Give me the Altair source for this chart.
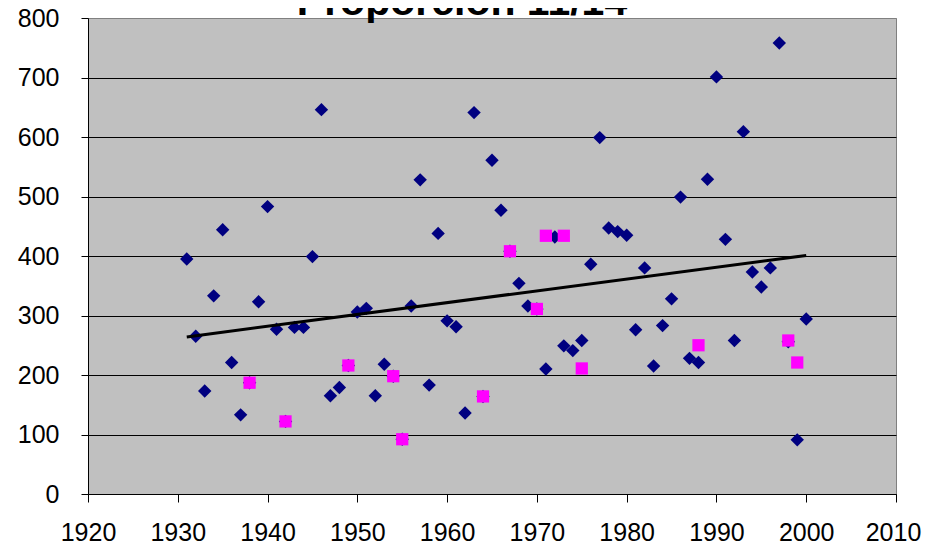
import altair as alt
import pandas as pd

title_text = "Proporción 11/14"

navy_years = list(range(1931, 2001))
navy_values = [395, 265, 173, 333, 444, 221, 133, 187, 323, 483,
               277, 122, 280, 280, 399, 646, 165, 179, 216, 306,
               312, 165, 218, 198, 92, 316, 528, 183, 438, 291,
               281, 136, 641, 164, 561, 477, 408, 354, 316, 311,
               210, 432, 249, 241, 258, 386, 599, 447, 441, 435,
               276, 380, 215, 283, 328, 499, 228, 221, 529, 701,
               428, 258, 609, 373, 348, 380, 758, 256, 91, 294]

pink_years = [1938, 1942, 1949, 1954, 1955, 1964, 1967, 1970, 1971, 1973, 1975, 1988, 1998, 1999]
pink_values = [187, 122, 216, 198, 92, 164, 408, 311, 434, 434, 211, 250, 258, 221]

trend_years = [1931, 2000]
trend_values = [264, 401]

x_ticks = list(range(1920, 2011, 10))
y_ticks = list(range(0, 801, 100))

navy_df = pd.DataFrame({"year": navy_years, "value": navy_values})
pink_df = pd.DataFrame({"year": pink_years, "value": pink_values})
trend_df = pd.DataFrame({"year": trend_years, "value": trend_values})
title_df = pd.DataFrame({"t": [title_text]})

FONT = "Liberation Sans"

xscale = alt.Scale(domain=[1920, 2010], nice=False, zero=False)
yscale = alt.Scale(domain=[0, 800], nice=False)

xaxis = alt.Axis(values=x_ticks, format="d", title=None, grid=False,
                 tickSize=8, labelPadding=18, labelFontSize=25, labelFont=FONT,
                 labelOffset=alt.condition(alt.datum.value == 2010, alt.value(-3), alt.value(0)),
                 labelColor="black", domainColor="black", tickColor="black",
                 labelFlush=False, labelOverlap=False)
yaxis = alt.Axis(values=y_ticks, title=None, grid=True,
                 gridColor=alt.condition(alt.datum.value == 800, alt.value("#808080"), alt.value("black")),
                 gridWidth=1, tickSize=7, labelPadding=22, labelFontSize=25,
                 labelFont=FONT, labelColor="black", domainColor="black",
                 tickColor="black", labelFlush=False, labelOverlap=False)

navy = alt.Chart(navy_df).mark_point(shape="diamond", filled=True, size=180,
                                     color="#000080", opacity=1).encode(
    x=alt.X("year:Q", scale=xscale, axis=xaxis),
    y=alt.Y("value:Q", scale=yscale, axis=yaxis),
)

pink = alt.Chart(pink_df).mark_point(shape="square", filled=True, size=150,
                                     color="#FF00FF", opacity=1).encode(
    x=alt.X("year:Q", scale=xscale),
    y=alt.Y("value:Q", scale=yscale),
)

trend = alt.Chart(trend_df).mark_line(color="black", strokeWidth=3).encode(
    x=alt.X("year:Q", scale=xscale),
    y=alt.Y("value:Q", scale=yscale),
)

title = alt.Chart(title_df).mark_text(font=FONT, fontSize=41, fontWeight="bold",
                                      color="black", align="center",
                                      baseline="alphabetic").encode(
    text="t:N", x=alt.value(374), y=alt.value(-3)
)

chart = alt.layer(navy, pink, trend, title).properties(
    width=808, height=476,
    autosize=alt.AutoSizeParams(type="none"),
    padding={"left": 80, "top": 10, "right": 26, "bottom": 62},
    background="white",
).configure_view(
    fill="#C0C0C0", stroke="#808080", strokeWidth=1
)

chart.save("out.html", embed_options={"renderer": "svg", "actions": False})
